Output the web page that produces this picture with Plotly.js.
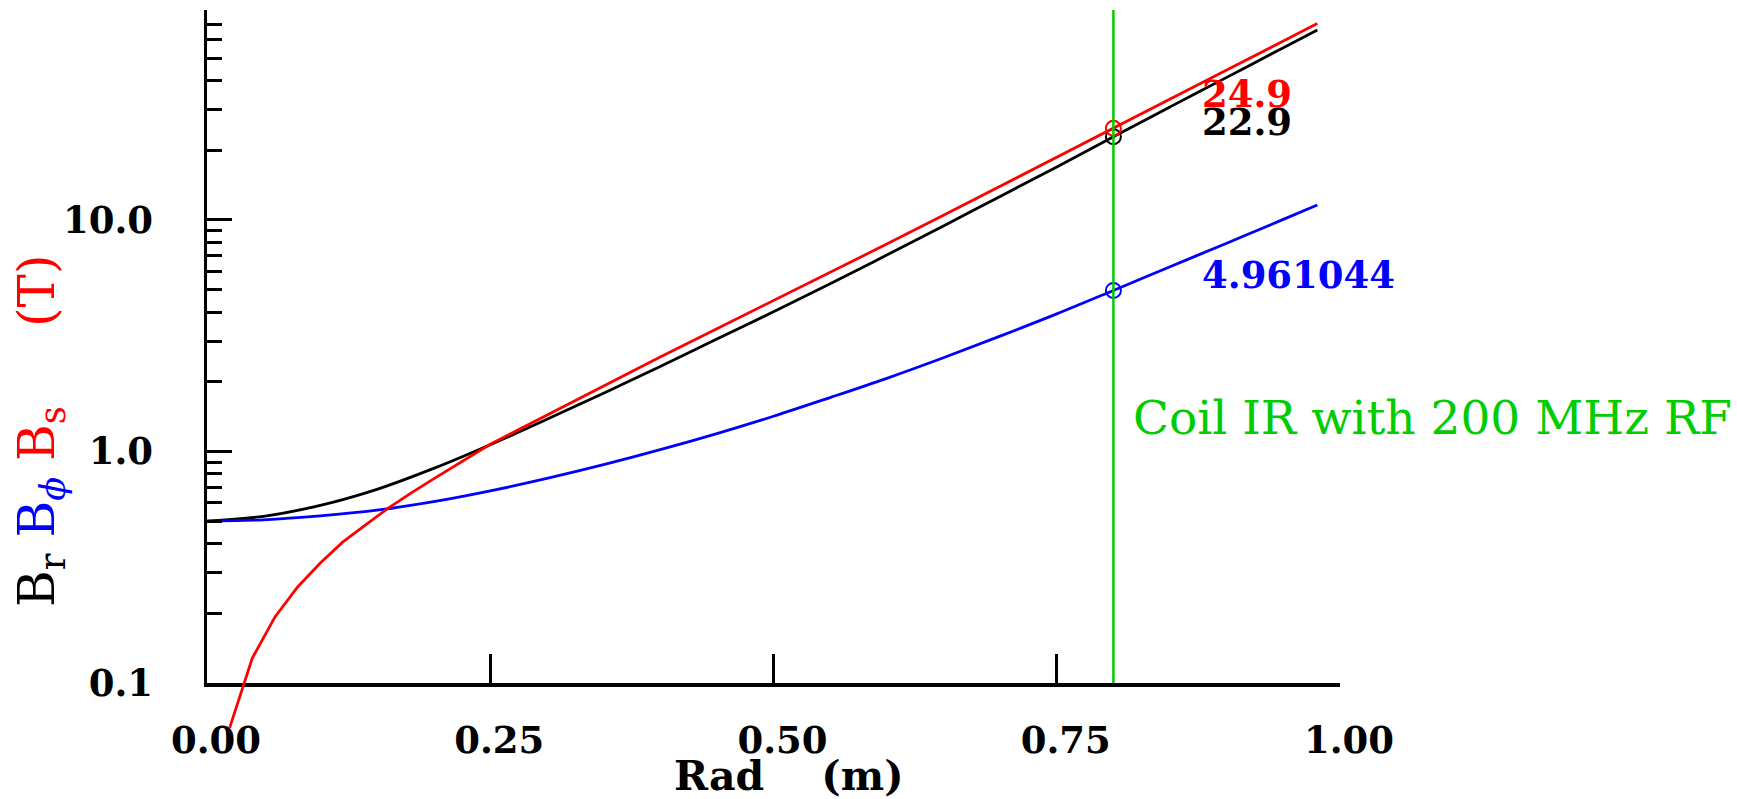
<!DOCTYPE html>
<html>
<head>
<meta charset="utf-8">
<script src="https://cdn.plot.ly/plotly-3.0.1.min.js"></script>
<style>
  html, body { margin: 0; padding: 0; background: #ffffff; }
  #chart { width: 1737px; height: 799px; }
</style>
</head>
<body>
<div id="chart"></div>
<script>
// ---------------- data ----------------
const rGrid = [0.00, 0.05, 0.10, 0.15, 0.20, 0.25, 0.30, 0.35, 0.40, 0.45, 0.50,
               0.55, 0.60, 0.65, 0.70, 0.75, 0.80, 0.85, 0.90, 0.95, 0.98];
const bR    = [0.500, 0.525, 0.585, 0.686, 0.845, 1.07, 1.377, 1.786, 2.33, 3.06, 4.01,
               5.30, 7.06, 9.43, 12.64, 16.94, 22.9, 30.8, 41.3, 55.5, 66.2];
const bPhi  = [0.500, 0.507, 0.527, 0.558, 0.607, 0.676, 0.765, 0.877, 1.018, 1.195, 1.42,
               1.71, 2.07, 2.54, 3.15, 3.93, 4.961, 6.28, 7.94, 10.06, 11.6];
const rS    = [0.02, 0.04, 0.06, 0.08, 0.10, 0.12, 0.14, 0.16, 0.18, 0.20, 0.25, 0.30, 0.35,
               0.40, 0.45, 0.50, 0.55, 0.60, 0.65, 0.70, 0.75, 0.80, 0.85, 0.90, 0.95, 0.98];
const bS    = [0.064, 0.128, 0.193, 0.260, 0.330, 0.407, 0.482, 0.569, 0.661, 0.762, 1.075, 1.435, 1.92,
               2.56, 3.39, 4.48, 5.93, 7.87, 10.47, 13.96, 18.6, 24.9, 33.2, 44.4, 59.3, 70.6];

const coilR = 0.8;
const coilBr = 22.9;
const coilBphi = 4.961044;
const coilBs = 24.9;
const coilLabel = 'Coil IR with 200 MHz RF';

const xTickVals = [0, 0.25, 0.5, 0.75, 1.0];
const xTickText = ['0.00', '0.25', '0.50', '0.75', '1.00'];
const xTickMarks = [0.25, 0.5, 0.75];
const yTickVals = [0.1, 1, 10];
const yTickText = ['0.1', '1.0', '10.0'];
const yMinorVals = [0.2, 0.3, 0.4, 0.5, 0.6, 0.7, 0.8, 0.9,
                    2, 3, 4, 5, 6, 7, 8, 9,
                    20, 30, 40, 50, 60, 70, 80];

// ---------------- geometry ----------------
const W = 1737, H = 799;
const M = {l: 207, r: 397, t: 10, b: 50};
const pw = W - M.l - M.r, ph = H - M.t - M.b;
const plotBottomPx = 683, plotTopPx = 10;
const yLogMin = -1, yLogMax = 1.907;
const yMainDomain0 = (H - M.b - plotBottomPx) / ph;
const pxPerDecade = (plotBottomPx - plotTopPx) / (yLogMax - yLogMin);
const y2LogMin = yLogMax - ph / pxPerDecade;
const px2x = px => (px - M.l) / pw;
const py2y = py => (H - M.b - py) / ph;

const FONT = 'DejaVu Serif';
const GREEN = '#00cc00';
const NB = '\u00a0';
const LW = 2.8;

const traces = [
  {x: rGrid, y: bR, type: 'scatter', mode: 'lines', xaxis: 'x', yaxis: 'y',
   line: {color: '#000000', width: LW, shape: 'spline', smoothing: 1}, hoverinfo: 'skip'},
  {x: rGrid, y: bPhi, type: 'scatter', mode: 'lines', xaxis: 'x', yaxis: 'y',
   line: {color: '#0000ff', width: LW, shape: 'spline', smoothing: 1}, hoverinfo: 'skip'},
  {x: rS, y: bS, type: 'scatter', mode: 'lines', xaxis: 'x', yaxis: 'y2',
   line: {color: '#ff0000', width: LW}, hoverinfo: 'skip'},
  {x: [coilR], y: [coilBr], type: 'scatter', mode: 'markers', xaxis: 'x', yaxis: 'y',
   marker: {symbol: 'circle-open', size: 15, color: '#000000', line: {width: 2}}},
  {x: [coilR], y: [coilBphi], type: 'scatter', mode: 'markers', xaxis: 'x', yaxis: 'y',
   marker: {symbol: 'circle-open', size: 15, color: '#0000ff', line: {width: 2}}},
  {x: [coilR], y: [coilBs], type: 'scatter', mode: 'markers', xaxis: 'x', yaxis: 'y2',
   marker: {symbol: 'circle-open', size: 15, color: '#ff0000', line: {width: 2}}}
];

const yTitle = 'B<sub>r</sub> <span style="color:#0000ff">B<sub><i>ϕ</i></sub></span> ' +
               '<span style="color:#ff0000">B<sub>s</sub>' + NB.repeat(5) + '(T)</span>';
const xTitle = '<b>Rad' + NB.repeat(4) + '(m)</b>';

const layout = {
  width: W, height: H,
  margin: M,
  paper_bgcolor: '#ffffff',
  plot_bgcolor: 'rgba(0,0,0,0)',
  showlegend: false,
  font: {family: FONT, color: '#000000'},
  xaxis: {
    domain: [0, 1], range: [0, 1], anchor: 'y',
    showline: true, linewidth: 3.5, linecolor: '#000000',
    showgrid: false, zeroline: false,
    tickmode: 'array', tickvals: xTickVals, ticktext: xTickText,
    ticks: '', ticklabelstandoff: 22, ticklabelshift: 9,
    tickfont: {family: FONT, size: 37, weight: 'bold', color: '#000000'},
    minor: {tickmode: 'array', tickvals: xTickMarks, ticks: 'inside', ticklen: 29,
            tickwidth: 3, tickcolor: '#000000', showgrid: false}
  },
  yaxis: {
    type: 'log', domain: [yMainDomain0, 1], range: [yLogMin, yLogMax], anchor: 'x',
    showline: true, linewidth: 3.5, linecolor: '#000000',
    showgrid: false, zeroline: false,
    tickmode: 'array', tickvals: yTickVals, ticktext: yTickText,
    ticks: 'inside', ticklen: 25, tickwidth: 3, tickcolor: '#000000',
    ticklabelstandoff: 43,
    tickfont: {family: FONT, size: 37, weight: 'bold', color: '#000000'},
    minor: {tickmode: 'array', tickvals: yMinorVals, ticks: 'inside', ticklen: 15,
            tickwidth: 3, tickcolor: '#000000', showgrid: false}
  },
  yaxis2: {
    type: 'log', domain: [0, 1], range: [y2LogMin, yLogMax], anchor: 'x',
    visible: false, showgrid: false, zeroline: false
  },
  shapes: [
    {type: 'line', xref: 'x', yref: 'y domain', x0: coilR, x1: coilR, y0: 0, y1: 1,
     line: {color: GREEN, width: 2.5}, layer: 'above'}
  ],
  annotations: [
    {text: yTitle, xref: 'paper', yref: 'paper', x: px2x(40), y: py2y(431),
     xanchor: 'center', yanchor: 'middle', textangle: -90, showarrow: false,
     font: {family: FONT, size: 50, color: '#000000'}},
    {text: xTitle, xref: 'paper', yref: 'paper', x: px2x(789), y: py2y(776),
     xanchor: 'center', yanchor: 'middle', showarrow: false,
     font: {family: FONT, size: 41, color: '#000000'}},
    {text: coilLabel, xref: 'paper', yref: 'paper', x: px2x(1131), y: py2y(417),
     xanchor: 'left', yanchor: 'middle', showarrow: false,
     font: {family: FONT, size: 47, color: GREEN}},
    {text: String(coilBs), xref: 'paper', yref: 'paper', x: px2x(1200), y: py2y(94),
     xanchor: 'left', yanchor: 'middle', showarrow: false,
     font: {family: FONT, size: 37, weight: 'bold', color: '#ff0000'}},
    {text: String(coilBr), xref: 'paper', yref: 'paper', x: px2x(1200), y: py2y(122),
     xanchor: 'left', yanchor: 'middle', showarrow: false,
     font: {family: FONT, size: 37, weight: 'bold', color: '#000000'}},
    {text: String(coilBphi), xref: 'paper', yref: 'paper', x: px2x(1200), y: py2y(275),
     xanchor: 'left', yanchor: 'middle', showarrow: false,
     font: {family: FONT, size: 37, weight: 'bold', color: '#0000ff'}}
  ]
};

Plotly.newPlot('chart', traces, layout, {displayModeBar: false, staticPlot: true});
</script>
</body>
</html>
